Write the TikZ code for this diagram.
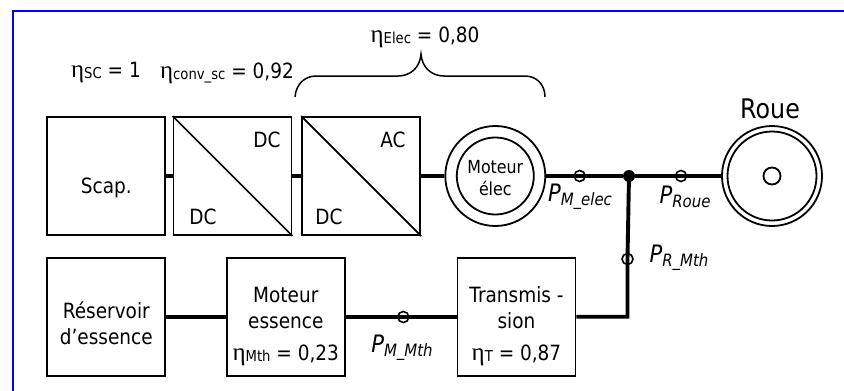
\documentclass[tikz,border=0pt]{standalone}
\usepackage{fontspec}
\setmainfont{DejaVu Sans}[FakeStretch=0.88]
\newfontfamily\etafont{Liberation Serif}
\newcommand{\etasub}[1]{{\fontsize{25}{25}\etafont\selectfont η}{\fontsize{15}{15}\selectfont\raisebox{-1pt}{#1}}}
\newcommand{\powlab}[2]{{\fontsize{24}{26}\selectfont\itshape #1}{\fontsize{17}{18}\selectfont\itshape\raisebox{-3.5pt}{#2}}}
\tikzset{
  bx/.style={draw,line width=1.9pt,minimum width=118pt,minimum height=118pt,inner sep=0pt},
  txt/.style={inner sep=0pt,align=center,font=\fontsize{21}{26}\selectfont},
  bus/.style={line width=3.9pt},
  thin line/.style={line width=1.7pt},
  ring/.style={circle,draw,line width=1.8pt,inner sep=0pt},
  probe/.style={circle,draw,line width=1.6pt,minimum size=11pt,inner sep=0pt},
  dotj/.style={circle,fill=black,minimum size=12pt,inner sep=0pt},
  lab/.style={inner sep=0pt,anchor=center}
}
\begin{document}
\begin{tikzpicture}[x=1pt,y=-1pt]
\useasboundingbox (0,0) rectangle (844,391);
\fill[white] (0,0) rectangle (844,391);
\coordinate (fa) at (12.5,391);
\coordinate (fb) at (12.5,11);
\coordinate (fc) at (844,11);
\draw[blue,line width=2pt] (fa) -- (fb) -- (fc);
% boxes
\node[bx] (scap) at (106.3,176) {};
\node[bx] (dc1) at (232.5,176) {};
\node[bx] (dc2) at (361.2,176) {};
\node[ring,minimum size=100pt] (mo) at (495.3,176) {};
\node[ring,minimum size=77pt] (moi) at (495.3,176) {};
\node[ring,minimum size=100pt] (ro) at (772,176) {};
\node[ring,minimum size=89pt] (roi) at (772,176) {};
\node[ring,minimum size=17pt] (roc) at (772,176) {};
\node[bx] (res) at (106.3,316.7) {};
\node[bx] (me) at (285.8,316.7) {};
\node[bx] (tr) at (516.5,316.7) {};
% inner texts
\node[txt] (t0) at (106.3,188) {Scap.};
\node[txt] (t5) at (106.3,323.5) {Réservoir\\d’essence};
\node[txt,font=\fontsize{18}{22}\selectfont] (t6) at (495.3,178.5) {Moteur\\élec};
\node[txt] (t1) at (285.8,307.5) {Moteur\\essence};
\node[txt] (t2) at (285.8,355.5) {\etasub{Mth} = 0,23};
\node[txt] (t3) at (516.5,307.5) {Transmis -\\sion};
\node[txt] (t4) at (516.5,355.5) {\etasub{T} = 0,87};
\node[txt] (d1) at (267,140) {DC};
\node[txt] (d2) at (203,217) {DC};
\node[txt] (d3) at (393,140) {AC};
\node[txt] (d4) at (329,217) {DC};
\draw[thin line] (dc1.north west) -- (dc1.south east);
\draw[thin line] (dc2.north west) -- (dc2.south east);
% connectors
\node[dotj] (j) at (629,176) {};
\node[probe] (p1) at (579.7,176) {};
\node[probe] (p2) at (681,176) {};
\node[probe] (p3) at (627.5,259) {};
\node[probe] (p4) at (403.3,317) {};
\draw[bus] (scap) -- (dc1);
\draw[bus] (dc1) -- (dc2);
\draw[bus] (dc2) -- (mo);
\draw[bus] (mo) -- (j) -- (ro);
\draw[bus] (res) -- (me);
\draw[bus] (me) -- (tr);
\draw[bus] (tr.east) -| (p3.center) -- (j.center);
% labels
\node[lab] (l1) at (580,197) {\powlab{P}{M\_elec}};
\node[lab] (l2) at (685,197) {\powlab{P}{Roue}};
\node[lab] (l3) at (679,258) {\powlab{P}{R\_Mth}};
\node[lab] (l4) at (402,348) {\powlab{P}{M\_Mth}};
\node[txt] (e1) at (106,73) {\etasub{SC} = 1};
\node[txt] (e2) at (227,73) {\etasub{conv\_sc} = 0,92};
\node[txt] (e3) at (425,37) {\etasub{Elec} = 0,80};
\node[txt,font=\fontsize{27}{30}\selectfont] (rt) at (770,109) {Roue};
% brace
\coordinate (b1) at (295,97);
\coordinate (b2) at (545,97);
\coordinate (bt) at (421,54);
\draw[line width=1.5pt] (b1) .. controls (296,84) and (305,76) .. (316,76) -- (398,76) .. controls (410,76) and (420,68) .. (bt)
  .. controls (422,68) and (432,76) .. (444,76) -- (525,76) .. controls (536,76) and (545,84) .. (b2);
\end{tikzpicture}
\end{document}
